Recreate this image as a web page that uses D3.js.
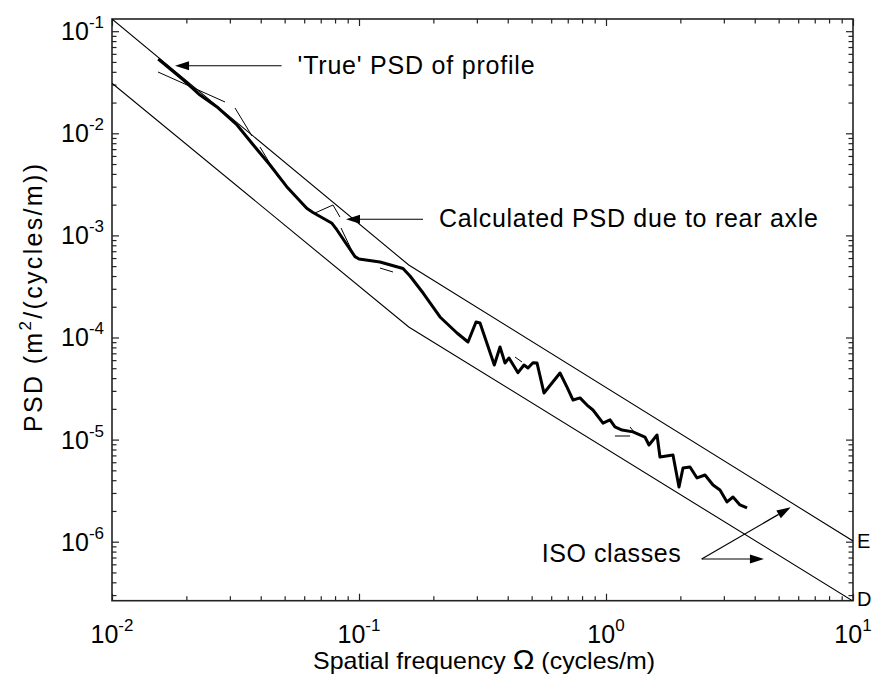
<!DOCTYPE html>
<html><head><meta charset="utf-8">
<script src="https://cdn.jsdelivr.net/npm/d3@7/dist/d3.min.js"></script>
<style>html,body{margin:0;padding:0;background:#fff;} svg{display:block;font-family:"Liberation Sans",Arial,sans-serif;}</style>
</head><body>
<svg id="chart" width="872" height="681"></svg>
<script>
// ---------- data ----------
const xMajor = [0.01, 0.1, 1, 10];
const xMajorExp = ["-2", "-1", "0", "1"];
const yMajor = [1e-6, 1e-5, 1e-4, 1e-3, 1e-2, 1e-1];
const yMajorExp = ["-6", "-5", "-4", "-3", "-2", "-1"];

// ISO class boundary lines (waviness 2 below n0, 1.5 above)
const isoFreq = [0.01, 0.159, 10];
const isoE = [0.1317, 5.13e-4, 1.016e-6];
const isoD = [0.0309, 1.268e-4, 2.62e-7];
const isoLabels = ["E", "D"];

// Calculated PSD due to rear axle (thick line)
const calcFreq = [0.01539,0.01944,0.02272,0.02654,0.03208,0.03734,0.04362,0.05098,0.06143,0.0651,
  0.07774,0.08144,0.09634,0.1,0.1216,0.1507,0.1609,0.1821,0.2128,0.2493,
  0.2763,0.2977,0.309,0.353,0.3723,0.3901,0.4048,0.4402,0.4656,0.4832,
  0.5063,0.5255,0.561,0.6513,0.6953,0.7355,0.7848,0.8377,0.8857,0.9725,
  1.038,1.087,1.161,1.286,1.438,1.493,1.609,1.654,1.867,1.975,
  2.05,2.188,2.336,2.517,2.712,2.894,3.09,3.267,3.487,3.724];
const calcPSD = [0.0534,0.0333,0.0237,0.01822,0.01206,0.00768,0.00489,0.0030,0.001842,0.001676,
  0.001314,0.00113,0.000619,0.000587,0.000549,0.000474,0.0004,0.000271,0.0001588,0.0001107,
  9.03e-5,1.418e-4,1.387e-4,5.38e-5,8.07e-5,5.63e-5,6.3e-5,4.52e-5,5.38e-5,5.03e-5,
  5.66e-5,5.63e-5,2.86e-5,4.49e-5,3.27e-5,2.44e-5,2.56e-5,2.18e-5,1.95e-5,1.45e-5,
  1.56e-5,1.33e-5,1.24e-5,1.19e-5,1.06e-5,8.86e-6,1.11e-5,6.75e-6,7.07e-6,3.43e-6,
  5.27e-6,5.39e-6,4.21e-6,4.5e-6,3.59e-6,3.21e-6,2.45e-6,2.74e-6,2.29e-6,2.14e-6];

// 'True' PSD of profile (thin band segments visible beside the thick line)
const trueSegFreq = [[0.01535,0.02868],[0.03148,0.03688],[0.03974,0.047],[0.06636,0.07846,0.08375],
  [0.08455,0.09456],[0.1216,0.1373],[0.428,0.4571],[1.087,1.251],[1.251,1.298]];
const trueSegPSD = [[0.03986,0.02026],[0.0177,0.00941],[0.00734,0.003733],[0.001657,0.001985,0.001514],
  [0.001182,0.000672],[0.000479,0.000438],[6.44e-5,5.75e-5],[1.084e-5,1.084e-5],[1.33e-5,1.19e-5]];

// annotations (anchored in data coordinates)
const noteText = ["'True' PSD of profile", "Calculated PSD due to rear axle", "ISO classes"];
const noteTail = [[0.0486,0.0459],[0.1816,0.00144],[2.44,6.77e-7]];
const noteTips = [[[0.0180,0.0459]],[[0.0886,0.00144]],[[4.36,6.77e-7],[5.594,2.17e-6]]];

// ---------- layout ----------
const L = 112, R = 853, T = 19, B = 600.7;
const FS = 25;
const svg = d3.select("#chart");
const x = d3.scaleLog().domain([0.01, 10]).range([L, R]);
const y = d3.scaleLog().domain([Math.pow(10,-6.578), Math.pow(10,-0.8805)]).range([B, T]);

const xMinor = [], yMinor = [];
for (let e = -2; e < 1; e++) for (let m = 2; m <= 9; m++) xMinor.push(m*Math.pow(10,e));
for (let e = -7; e < 0; e++) for (let m = 2; m <= 9; m++) {
  const v = m*Math.pow(10,e);
  if (v > y.domain()[0] && v < y.domain()[1]) yMinor.push(v);
}

svg.append("defs").append("clipPath").attr("id","clip")
  .append("rect").attr("x",L).attr("y",T).attr("width",R-L).attr("height",B-T);

// axes with inward ticks on all four sides
function styleAxis(g){ g.select(".domain").remove(); g.selectAll("line").attr("stroke","#222").attr("stroke-width",1.2); g.selectAll("text").remove(); }
svg.append("g").attr("transform",`translate(0,${B})`).call(d3.axisBottom(x).tickValues(xMajor).tickSize(-7).tickFormat("")).call(styleAxis);
svg.append("g").attr("transform",`translate(0,${B})`).call(d3.axisBottom(x).tickValues(xMinor).tickSize(-4.5).tickFormat("")).call(styleAxis);
svg.append("g").attr("transform",`translate(0,${T})`).call(d3.axisTop(x).tickValues(xMajor).tickSize(-7).tickFormat("")).call(styleAxis);
svg.append("g").attr("transform",`translate(0,${T})`).call(d3.axisTop(x).tickValues(xMinor).tickSize(-4.5).tickFormat("")).call(styleAxis);
svg.append("g").attr("transform",`translate(${L},0)`).call(d3.axisLeft(y).tickValues(yMajor).tickSize(-7).tickFormat("")).call(styleAxis);
svg.append("g").attr("transform",`translate(${L},0)`).call(d3.axisLeft(y).tickValues(yMinor).tickSize(-4.5).tickFormat("")).call(styleAxis);
svg.append("g").attr("transform",`translate(${R},0)`).call(d3.axisRight(y).tickValues(yMajor).tickSize(-7).tickFormat("")).call(styleAxis);
svg.append("g").attr("transform",`translate(${R},0)`).call(d3.axisRight(y).tickValues(yMinor).tickSize(-4.5).tickFormat("")).call(styleAxis);

svg.append("rect").attr("x",L).attr("y",T).attr("width",R-L).attr("height",B-T)
  .attr("fill","none").attr("stroke","#222").attr("stroke-width",1.6);

// tick labels
xMajor.forEach((v,i)=>{
  const t = svg.append("text").attr("x",x(v)).attr("y",643).attr("text-anchor","middle")
    .attr("font-size",FS).attr("fill","#000");
  t.append("tspan").text("10");
  t.append("tspan").attr("dy",-12).attr("font-size",17).text(xMajorExp[i]);
});
yMajor.forEach((v,i)=>{
  const t = svg.append("text").attr("x",104).attr("y",y(v)+9).attr("text-anchor","end")
    .attr("font-size",FS).attr("fill","#000");
  t.append("tspan").text("10");
  t.append("tspan").attr("dy",-12).attr("font-size",17).text(yMajorExp[i]);
});

// axis titles
const xl = svg.append("text").attr("x",484).attr("y",669).attr("text-anchor","middle")
  .attr("font-size",24).attr("fill","#000").attr("textLength",342).attr("lengthAdjust","spacingAndGlyphs");
xl.append("tspan").text("Spatial frequency ");
xl.append("tspan").attr("font-size",28).text("Ω");
xl.append("tspan").text(" (cycles/m)");

const yl = svg.append("text").attr("transform","translate(42,298) rotate(-90)").attr("text-anchor","middle")
  .attr("font-size",FS).attr("fill","#000").attr("textLength",268).attr("lengthAdjust","spacing");
yl.append("tspan").text("PSD (m");
yl.append("tspan").attr("dy",-11).attr("font-size",17).text("2");
yl.append("tspan").attr("dy",11).text("/(cycles/m))");

// plot lines
const plot = svg.append("g").attr("clip-path","url(#clip)");
const line = d3.line().x(d=>x(d[0])).y(d=>y(d[1]));
[isoE, isoD].forEach(arr=>{
  plot.append("path").datum(isoFreq.map((f,i)=>[f,arr[i]])).attr("d",line)
    .attr("fill","none").attr("stroke","#000").attr("stroke-width",1.1);
});
trueSegFreq.forEach((fs,i)=>{
  plot.append("path").datum(fs.map((f,j)=>[f,trueSegPSD[i][j]])).attr("d",line)
    .attr("fill","none").attr("stroke","#000").attr("stroke-width",1);
});
plot.append("path").datum(calcFreq.map((f,i)=>[f,calcPSD[i]])).attr("d",line)
  .attr("fill","none").attr("stroke","#000").attr("stroke-width",3).attr("stroke-linejoin","round");

// ISO class labels at right edge
isoLabels.forEach((s,i)=>{
  const arr = i===0 ? isoE : isoD;
  svg.append("text").attr("x",R+4).attr("y",Math.min(y(arr[2]),B-2)+7).attr("font-size",20).attr("fill","#000").text(s);
});

// annotations with arrows
function arrow(x1,y1,x2,y2){
  const a = Math.atan2(y2-y1,x2-x1), len=14, hw=4.5;
  const bx = x2-len*Math.cos(a), by = y2-len*Math.sin(a);
  svg.append("line").attr("x1",x1).attr("y1",y1).attr("x2",bx).attr("y2",by).attr("stroke","#000").attr("stroke-width",1.2);
  svg.append("path").attr("d",`M${x2},${y2}L${bx-hw*Math.sin(a)},${by+hw*Math.cos(a)}L${bx+hw*Math.sin(a)},${by-hw*Math.cos(a)}Z`).attr("fill","#000");
}
const noteLen = [237, 379, 139];
noteTail.forEach((tl,i)=>{
  const tx = x(tl[0]), ty = y(tl[1]);
  noteTips[i].forEach(tp=>arrow(tx,ty,x(tp[0]),y(tp[1])));
  const t = svg.append("text").attr("font-size",FS).attr("fill","#000")
    .attr("textLength",noteLen[i]).attr("lengthAdjust","spacing").text(noteText[i]);
  if (i<2) t.attr("x",tx+16).attr("y",ty+8);
  else t.attr("x",tx-21-noteLen[i]).attr("y",ty+3);
});
</script>
</body></html>
